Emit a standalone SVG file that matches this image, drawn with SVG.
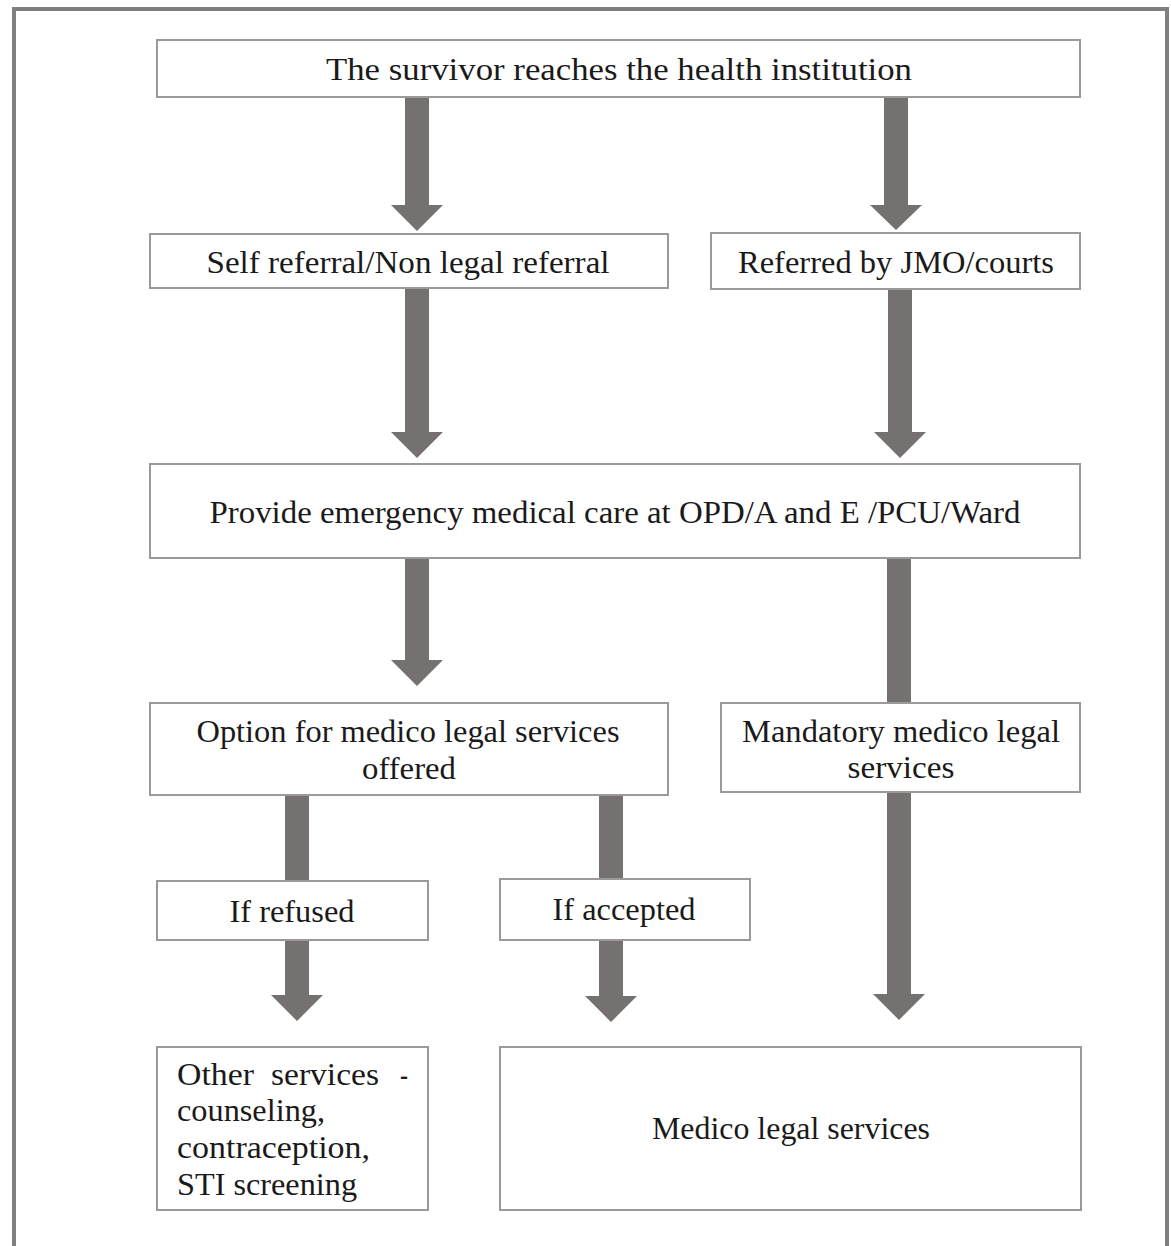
<svg xmlns="http://www.w3.org/2000/svg" width="1171" height="1246" viewBox="0 0 1171 1246">
<style>
.box{fill:#fff;stroke:#9a9a9a;stroke-width:2}
.arr{fill:#767171}
.t{font-family:"Liberation Serif","Times New Roman",serif;font-size:32px;fill:#1a1a1a}
.c{text-anchor:middle}
</style>
<rect x="0" y="0" width="1171" height="1246" fill="#fff"/>
<rect x="14" y="9" width="1153" height="1270" fill="none" stroke="#7f7f7f" stroke-width="4"/>
<g id="connectors">
<polygon class="arr" points="405,97 429,97 429,205 443,205 417,231 391,205 405,205"/>
<polygon class="arr" points="884,97 908,97 908,205 922,205 896,230 870,205 884,205"/>
<polygon class="arr" points="405,288 429,288 429,432 443,432 417,458 391,432 405,432"/>
<polygon class="arr" points="888,289 912,289 912,432 926,432 900,458 874,432 888,432"/>
<polygon class="arr" points="405,558 429,558 429,660 443,660 417,686 391,660 405,660"/>
<rect class="arr" x="887" y="558" width="24" height="146"/>
<rect class="arr" x="285" y="795" width="24" height="87"/>
<rect class="arr" x="599" y="795" width="24" height="85"/>
<polygon class="arr" points="285,940 309,940 309,995 323,995 297,1021 271,995 285,995"/>
<polygon class="arr" points="599,940 623,940 623,996 637,996 611,1022 585,996 599,996"/>
<polygon class="arr" points="887,792 911,792 911,994 925,994 899,1020 873,994 887,994"/>
</g>
<g id="n_start">
<rect class="box" x="157" y="40" width="923" height="57"/>
<text class="t c" x="619" y="80" textLength="586" lengthAdjust="spacingAndGlyphs">The survivor reaches the health institution</text>
</g>
<g id="n_self">
<rect class="box" x="150" y="234" width="518" height="54"/>
<text class="t c" x="408" y="273" textLength="403" lengthAdjust="spacingAndGlyphs">Self referral/Non legal referral</text>
</g>
<g id="n_jmo">
<rect class="box" x="711" y="233" width="369" height="56"/>
<text class="t c" x="896" y="273" textLength="316" lengthAdjust="spacingAndGlyphs">Referred by JMO/courts</text>
</g>
<g id="n_emergency">
<rect class="box" x="150" y="464" width="930" height="94"/>
<text class="t c" x="615" y="523" textLength="811" lengthAdjust="spacingAndGlyphs">Provide emergency medical care at OPD/A and E /PCU/Ward</text>
</g>
<g id="n_option">
<rect class="box" x="150" y="703" width="518" height="92"/>
<text class="t c" x="408" y="742" textLength="423" lengthAdjust="spacingAndGlyphs">Option for medico legal services</text>
<text class="t c" x="409" y="779" textLength="94" lengthAdjust="spacingAndGlyphs">offered</text>
</g>
<g id="n_mandatory">
<rect class="box" x="721" y="703" width="359" height="89"/>
<text class="t c" x="901" y="742" textLength="318" lengthAdjust="spacingAndGlyphs">Mandatory medico legal</text>
<text class="t c" x="901" y="778" textLength="107" lengthAdjust="spacingAndGlyphs">services</text>
</g>
<g id="n_refused">
<rect class="box" x="157" y="881" width="271" height="59"/>
<text class="t c" x="292" y="922" textLength="125" lengthAdjust="spacingAndGlyphs">If refused</text>
</g>
<g id="n_accepted">
<rect class="box" x="500" y="879" width="250" height="61"/>
<text class="t c" x="624" y="920" textLength="143" lengthAdjust="spacingAndGlyphs">If accepted</text>
</g>
<g id="n_other">
<rect class="box" x="157" y="1047" width="271" height="163"/>
<text class="t" x="177" y="1085" textLength="77" lengthAdjust="spacingAndGlyphs">Other</text>
<text class="t" x="271" y="1085" textLength="108" lengthAdjust="spacingAndGlyphs">services</text>
<text class="t" x="400" y="1085" textLength="8" lengthAdjust="spacingAndGlyphs">-</text>
<text class="t" x="177" y="1121" textLength="148" lengthAdjust="spacingAndGlyphs">counseling,</text>
<text class="t" x="177" y="1158" textLength="193" lengthAdjust="spacingAndGlyphs">contraception,</text>
<text class="t" x="177" y="1195" textLength="180" lengthAdjust="spacingAndGlyphs">STI screening</text>
</g>
<g id="n_medico">
<rect class="box" x="500" y="1047" width="581" height="163"/>
<text class="t c" x="791" y="1139" textLength="278" lengthAdjust="spacingAndGlyphs">Medico legal services</text>
</g>
</svg>
